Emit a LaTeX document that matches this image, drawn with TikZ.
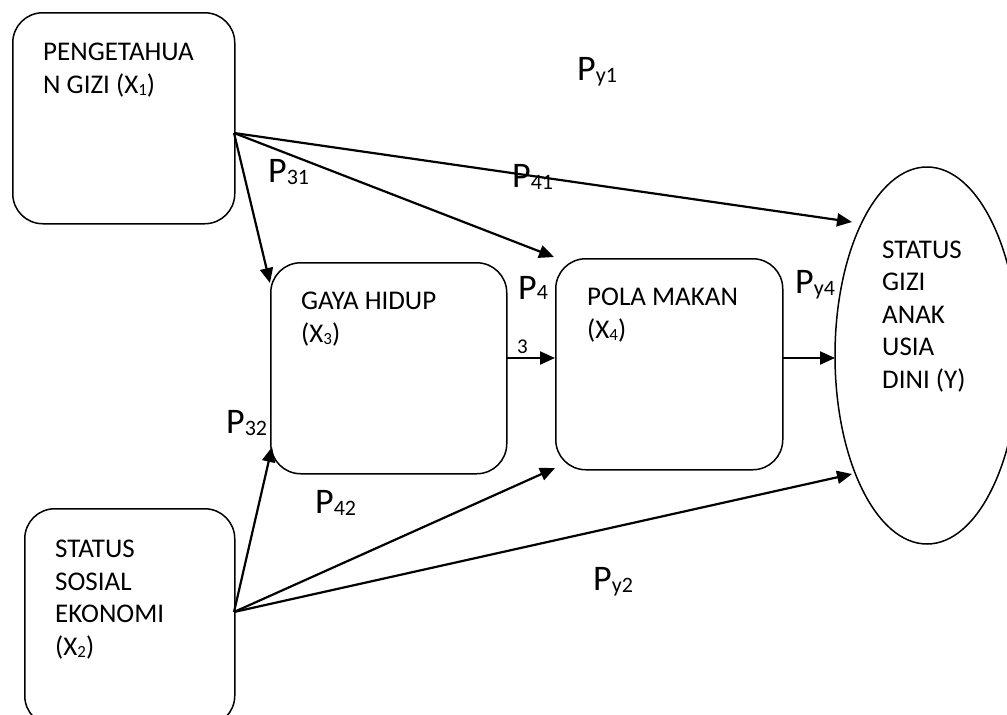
\documentclass[tikz,border=0pt]{standalone}
\usepackage{fontspec}
\setmainfont{Carlito}
\usetikzlibrary{arrows.meta,shapes.geometric}
\newcommand\subx[1]{\raisebox{-2pt}{\fontsize{17}{17}\selectfont #1}}
\newcommand\subp[1]{\raisebox{-2.5pt}{\fontsize{22}{22}\selectfont #1}}
\begin{document}
\begin{tikzpicture}[x=1pt,y=-1pt,
  boxshape/.style={draw, line width=1.5pt, rounded corners=30pt, inner sep=0pt, anchor=north west},
  boxtext/.style={anchor=base west, inner sep=0pt, align=left, font=\fontsize{27}{32.5}\selectfont},
  plabel/.style={anchor=base west, inner sep=0pt, font=\fontsize{36}{40}\selectfont},
  smalllabel/.style={anchor=base west, inner sep=0pt, font=\fontsize{21}{24}\selectfont},
  conn/.style={line width=2.2pt, -{Triangle[length=15pt,width=13pt]}}]
\useasboundingbox (0,0) rectangle (1007,715);
\clip (0,0) rectangle (1007,715);

% boxes
\node[boxshape, minimum width=222pt, minimum height=211pt] (X1) at (12,12) {};
\node[boxshape, minimum width=210pt, minimum height=217pt] (X2) at (24,508) {};
\node[boxshape, minimum width=236pt, minimum height=211pt] (X3) at (270,262) {};
\node[boxshape, minimum width=227pt, minimum height=211pt] (X4) at (555,258) {};
\node[draw, line width=1.5pt, ellipse, inner sep=0pt, minimum width=184pt, minimum height=377pt] (Y) at (927,355.5) {};

% box texts (anchor = baseline of the last line)
\node[boxtext] (tX1) at (43,93) {PENGETAHUA\\N GIZI (X\subx{1})};
\node[boxtext] (tX2) at (55,655) {STATUS\\SOSIAL\\EKONOMI\\(X\subx{2})};
\node[boxtext] (tX3) at (301,342) {GAYA HIDUP\\(X\subx{3})};
\node[boxtext] (tX4) at (587,338) {POLA MAKAN\\(X\subx{4})};
\node[boxtext] (tY) at (882,388) {STATUS\\GIZI\\ANAK\\USIA\\DINI (Y)};

% connector end points
\coordinate (s1) at (234,133);
\coordinate (s2) at (234,612);
\coordinate (e13) at (270,283);
\coordinate (e14) at (554,257);
\coordinate (e1y) at (852,222);
\coordinate (o3) at (506,358);
\coordinate (i4) at (555,358);
\coordinate (o4) at (782,358);
\coordinate (iy) at (835,358);
\coordinate (e23) at (272,447);
\coordinate (e24) at (555,468);
\coordinate (e2y) at (852,474);

% connectors
\draw[conn] (s1) -- (e13);
\draw[conn] (s1) -- (e14);
\draw[conn] (s1) -- (e1y);
\draw[conn] (o3) -- (i4);
\draw[conn] (o4) -- (iy);
\draw[conn] (s2) -- (e23);
\draw[conn] (s2) -- (e24);
\draw[conn] (s2) -- (e2y);

% path labels
\node[plabel] (py1) at (577,80) {P\subp{y1}};
\node[plabel] (p31) at (268,182) {P\subp{31}};
\node[plabel] (p41) at (512,187) {P\subp{41}};
\node[plabel] (p4) at (518,299) {P{\fontsize{22}{22}\selectfont 4}};
\node[smalllabel] (l3) at (517,353) {3};
\node[plabel] (py4) at (795,293) {P\subp{y4}};
\node[plabel] (p32) at (226,433) {P\subp{32}};
\node[plabel] (p42) at (315,513) {P\subp{42}};
\node[plabel] (py2) at (593,590) {P\subp{y2}};
\end{tikzpicture}
\end{document}
